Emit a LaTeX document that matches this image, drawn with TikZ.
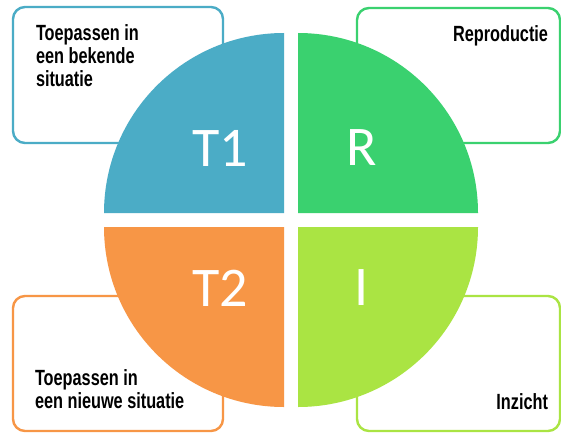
\documentclass[tikz,border=0pt]{standalone}
\usepackage{fontspec}
\setmainfont{Carlito}
\newfontfamily\boxfont[FakeStretch=0.74]{Liberation Sans}
\usetikzlibrary{positioning}

\definecolor{tealq}{HTML}{4BACC6}
\definecolor{greenq}{HTML}{3AD16F}
\definecolor{orangeq}{HTML}{F79646}
\definecolor{limeq}{HTML}{AAE443}

\def\tlquad{(284,219) -- (284,399) arc [start angle=90, end angle=180, radius=180] -- cycle}
\def\trquad{(298,219) -- (478,219) arc [start angle=0, end angle=90, radius=180] -- cycle}
\def\blquad{(284,205) -- (104,205) arc [start angle=180, end angle=270, radius=180] -- cycle}
\def\brquad{(298,205) -- (298,25) arc [start angle=270, end angle=360, radius=180] -- cycle}

\tikzset{
    kader/.style={draw, line width=2.4pt, rounded corners=12pt, inner sep=0pt},
    letter/.style={text=white, inner sep=0pt, font=\fontsize{56}{56}\selectfont},
    uitleg/.style={inner sep=0pt, align=left, font=\boxfont\bfseries\fontsize{22}{23}\selectfont}
}

\begin{document}
\begin{tikzpicture}[x=1pt, y=1pt]

    \useasboundingbox (0,0) rectangle (561,432);
    \fill[white] (0,0) rectangle (561,432);

    % kaders achter de cirkel
    \node[kader, draw=tealq,   minimum width=210pt, minimum height=136pt] (bekendbox) at (118,357)   {};
    \node[kader, draw=greenq,  minimum width=203pt, minimum height=135pt] (reprobox)  at (458.5,356.5) {};
    \node[kader, draw=orangeq, minimum width=210pt, minimum height=135pt] (nieuwbox)  at (118,68.5)  {};
    \node[kader, draw=limeq,   minimum width=203pt, minimum height=135pt] (inzichtbox) at (458.5,68.5) {};

    % de vier kwadranten
    \fill[tealq]   \tlquad;
    \fill[greenq]  \trquad;
    \fill[orangeq] \blquad;
    \fill[limeq]   \brquad;

    % T1
    \node[letter] (t1) at (220,284) {T1};
    \node[uitleg, below right=19pt and 24pt of bekendbox.north west] (bekendtxt) {Toepassen in\\een bekende\\situatie};

    % R
    \node[letter] (r) at (362,284) {R};
    \node[uitleg, below left=19pt and 13pt of reprobox.north east] (reprotxt) {Reproductie};

    % T2
    \node[letter] (t2) at (220,144) {T2};
    \node[uitleg, above right=23pt and 23pt of nieuwbox.south west] (nieuwtxt) {Toepassen in\\een nieuwe situatie};

    % I
    \node[letter] (i) at (362,144) {I};
    \node[uitleg, above left=22pt and 13pt of inzichtbox.south east] (inzichttxt) {Inzicht};

\end{tikzpicture}
\end{document}
